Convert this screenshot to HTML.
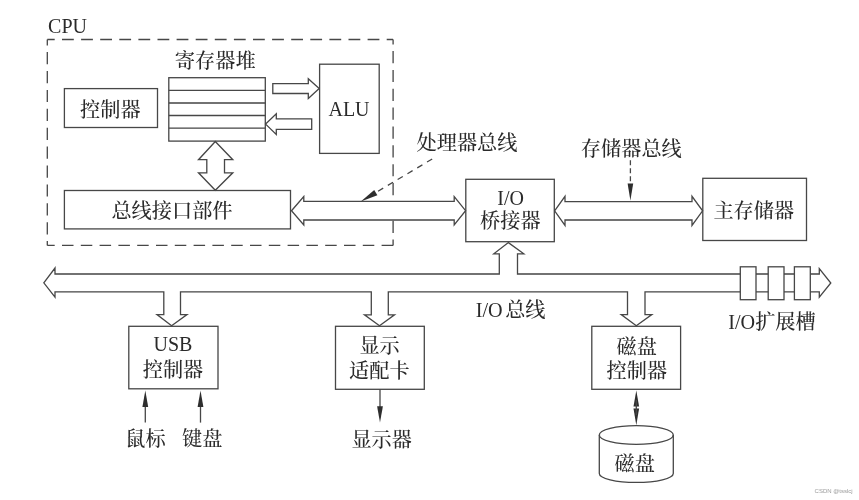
<!DOCTYPE html>
<html lang="zh-CN">
<head>
<meta charset="utf-8">
<title>计算机系统硬件组成</title>
<style>
html,body{margin:0;padding:0;background:#fff;}
body{width:859px;height:500px;overflow:hidden;}
svg{display:block;}
.ln{fill:none;stroke:#464646;stroke-width:1.3;stroke-linejoin:miter;}
.wf{fill:#fff;stroke:#464646;stroke-width:1.3;stroke-linejoin:miter;}
.ah{fill:#2e2e2e;stroke:none;}
text{font-weight:500;font-family:"Liberation Serif","Noto Serif CJK SC",serif;font-size:20.2px;fill:#2a2a2a;text-anchor:middle;}
.lat{font-size:20px;}
.wm{font-family:"Liberation Sans",sans-serif;font-size:6px;fill:#9a9a9a;text-anchor:start;}
</style>
</head>
<body>
<svg width="859" height="500" viewBox="0 0 859 500">
<rect x="0" y="0" width="859" height="500" fill="#ffffff"/>
<defs><filter id="soft" x="0" y="0" width="859" height="500" filterUnits="userSpaceOnUse"><feGaussianBlur stdDeviation="0.4"/></filter></defs>
<g filter="url(#soft)">

<!-- CPU dashed frame -->
<line class="ln" x1="47.3" y1="39.5" x2="393.1" y2="39.5" stroke-dasharray="11.8 7.3" stroke-dashoffset="4.4"/>
<line class="ln" x1="47.3" y1="245.4" x2="393.1" y2="245.4" stroke-dasharray="11.5 7.3" stroke-dashoffset="4.1"/>
<line class="ln" x1="47.3" y1="39.5" x2="47.3" y2="245.4" stroke-dasharray="12.2 6.7" stroke-dashoffset="6.3"/>
<line class="ln" x1="393.1" y1="39.5" x2="393.1" y2="245.4" stroke-dasharray="12.2 6.65" stroke-dashoffset="7.3"/>
<text class="lat" x="67.5" y="32.6">CPU</text>

<!-- controller -->
<rect class="ln" x="64.4" y="88.6" width="93.1" height="38.9"/>
<text x="110.3" y="116.6">控制器</text>

<!-- register file -->
<text x="215.2" y="68.3">寄存器堆</text>
<rect class="ln" x="168.8" y="77.7" width="96.5" height="63.4"/>
<path class="ln" d="M168.8 90.4H265.3M168.8 103H265.3M168.8 115.5H265.3M168.8 128.1H265.3"/>

<!-- ALU -->
<rect class="ln" x="319.6" y="64.2" width="59.6" height="89.2"/>
<text class="lat" x="349" y="116">ALU</text>

<!-- small arrows between register file and ALU -->
<polygon class="ln" points="272.8,83.6 308.3,83.6 308.3,78.7 319.2,88.6 308.3,98.6 308.3,93.5 272.8,93.5"/>
<polygon class="ln" points="311.7,118.9 276.3,118.9 276.3,113.7 265.6,124.1 276.3,134.5 276.3,129.3 311.7,129.3"/>

<!-- vertical double arrow -->
<polygon class="ln" points="215.3,141.5 232.8,159.7 224.5,159.7 224.5,172.8 232.8,172.8 215.3,190.2 198.5,172.8 206.8,172.8 206.8,159.7 198.5,159.7"/>

<!-- bus interface -->
<rect class="ln" x="64.4" y="190.5" width="226.1" height="38.4"/>
<text x="172" y="218.3">总线接口部件</text>

<!-- processor bus -->
<polygon class="wf" points="291.5,210.7 303.8,196.5 303.8,201.3 454.2,201.3 454.2,196.5 465.6,210.7 454.2,225 454.2,220 303.8,220 303.8,225"/>
<text x="467" y="149.5">处理器总线</text>
<line class="ln" x1="432.2" y1="159" x2="375" y2="193" stroke-dasharray="6 5.4"/>
<polygon class="ah" points="360.8,201.4 374.2,189.9 377.4,195.2"/>

<!-- I/O bridge -->
<rect class="ln" x="465.8" y="179.3" width="88.5" height="62.4"/>
<text class="lat" x="510.6" y="204.6">I/O</text>
<text x="510.3" y="228.2">桥接器</text>

<!-- memory bus -->
<polygon class="ln" points="554.6,210.8 565,196.3 565,201.7 692,201.7 692,196.3 702.6,210.8 692,225.4 692,220 565,220 565,225.4"/>
<text x="631.3" y="155.7">存储器总线</text>
<line class="ln" x1="630.4" y1="160.2" x2="630.4" y2="184" stroke-dasharray="5 3"/>
<polygon class="ah" points="630.4,200.6 627.6,183.4 633.2,183.4"/>

<!-- main memory -->
<rect class="ln" x="702.8" y="178.3" width="103.7" height="62.2"/>
<text x="753.8" y="218">主存储器</text>

<!-- I/O bus -->
<polygon class="ln" points="43.8,282.8 55,268 55,274 499.3,274 499.3,253.8 493.8,253.8 508.4,242.6 523.8,253.8 517.5,253.8 517.5,274 819.3,274 819.3,268.7 830.8,283 819.3,297.1 819.3,291.8 645,291.8 645,314.6 651.8,314.6 636.3,325.8 621.2,314.6 627.5,314.6 627.5,291.8 388.3,291.8 388.3,314.9 394.5,314.9 379.5,325.8 364.5,314.9 371.3,314.9 371.3,291.8 180.5,291.8 180.5,314.6 187,314.6 171.6,325.8 157,314.6 163.8,314.6 163.8,291.8 55,291.8 55,297.1"/>
<rect class="wf" x="740.3" y="266.8" width="15.7" height="32.9"/>
<rect class="wf" x="768.2" y="266.8" width="15.8" height="32.9"/>
<rect class="wf" x="794.4" y="266.8" width="15.9" height="32.9"/>
<text x="510.6" y="317.2" style="word-spacing:-2.5px">I/O 总线</text>
<text x="772" y="329.1">I/O扩展槽</text>

<!-- USB controller -->
<rect class="ln" x="128.8" y="326.3" width="89.2" height="62.5"/>
<text class="lat" x="172.9" y="351.1">USB</text>
<text x="173" y="376.6">控制器</text>
<line class="ln" x1="145.3" y1="405" x2="145.3" y2="422.6"/>
<polygon class="ah" points="145.3,390.4 142.4,407 148.2,407"/>
<line class="ln" x1="200.5" y1="405" x2="200.5" y2="422.6"/>
<polygon class="ah" points="200.5,390.4 197.6,407 203.4,407"/>
<text x="145.5" y="446.1">鼠标</text>
<text x="202.2" y="446.1">键盘</text>

<!-- display adapter -->
<rect class="ln" x="335.5" y="326.3" width="88.8" height="63"/>
<text x="379.6" y="352.8">显示</text>
<text x="379.4" y="378.3">适配卡</text>
<line class="ln" x1="380" y1="389.3" x2="380" y2="408"/>
<polygon class="ah" points="380,422.6 377.1,406.2 382.9,406.2"/>
<text x="381.7" y="446.7">显示器</text>

<!-- disk controller -->
<rect class="ln" x="591.8" y="326.3" width="88.8" height="63"/>
<text x="636.8" y="353.8">磁盘</text>
<text x="636.8" y="378.3">控制器</text>
<polygon class="ah" points="636.3,390.4 633.5,406.5 639.1,406.5"/>
<polygon class="ah" points="636.3,425.2 633.5,408.5 639.1,408.5"/>
<line class="ln" x1="636.3" y1="400" x2="636.3" y2="415"/>

<!-- disk -->
<path class="ln" d="M599.3 435V473.4A37 9 0 0 0 673.3 473.4V435"/>
<ellipse class="ln" cx="636.3" cy="435" rx="37" ry="9.4"/>
<text x="634.7" y="470.6">磁盘</text>

<text class="wm" x="814.6" y="493.2">CSDN @tsslcj</text>
</g>
</svg>
</body>
</html>
